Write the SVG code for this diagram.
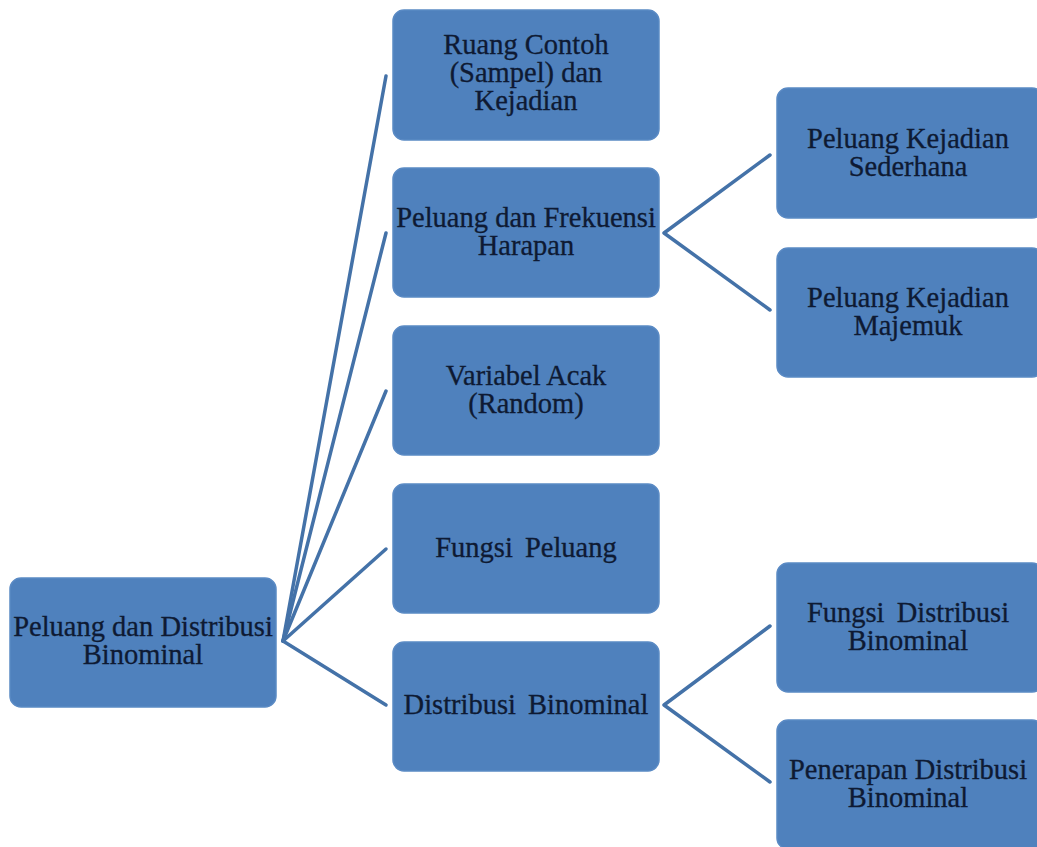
<svg xmlns="http://www.w3.org/2000/svg" width="1037" height="847" viewBox="0 0 1037 847">
<style>
.box{fill:#4f81bd;stroke:#5a8ac4;stroke-width:1.5}
.t{font-family:"Liberation Serif","Times New Roman",serif;font-size:28.5px;fill:#0e1a33;text-anchor:middle;stroke:#0e1a33;stroke-width:0.3}
.c{stroke:#4472a8;stroke-width:3.5;fill:none;stroke-linecap:round;stroke-linejoin:round}
</style>
<rect width="1037" height="847" fill="#ffffff"/>
<g id="connectors">
<path class="c" d="M283,641 L386,76"/>
<path class="c" d="M283,641 L386,233"/>
<path class="c" d="M283,641 L386,391"/>
<path class="c" d="M283,641 L386,549"/>
<path class="c" d="M283,641 L386,705"/>
<path class="c" d="M770,155 L664,233 L770,310"/>
<path class="c" d="M770,626 L664,705 L770,782"/>
</g>
<g id="root">
<rect class="box" x="10" y="578" width="266" height="129" rx="11"/>
<text class="t" x="143" y="636">Peluang dan Distribusi</text>
<text class="t" x="143" y="664">Binominal</text>
</g>
<g id="ruang-contoh">
<rect class="box" x="393" y="10" width="266" height="130" rx="11"/>
<text class="t" x="526" y="54">Ruang Contoh</text>
<text class="t" x="526" y="82">(Sampel) dan</text>
<text class="t" x="526" y="110">Kejadian</text>
</g>
<g id="peluang-frekuensi">
<rect class="box" x="393" y="168" width="266" height="129" rx="11"/>
<text class="t" x="526" y="227">Peluang dan Frekuensi</text>
<text class="t" x="526" y="255">Harapan</text>
</g>
<g id="variabel-acak">
<rect class="box" x="393" y="326" width="266" height="129" rx="11"/>
<text class="t" x="526" y="385">Variabel Acak</text>
<text class="t" x="526" y="413">(Random)</text>
</g>
<g id="fungsi-peluang">
<rect class="box" x="393" y="484" width="266" height="129" rx="11"/>
<text class="t" x="526" y="557" word-spacing="5">Fungsi Peluang</text>
</g>
<g id="distribusi-binominal">
<rect class="box" x="393" y="642" width="266" height="129" rx="11"/>
<text class="t" x="526" y="714" word-spacing="5">Distribusi Binominal</text>
</g>
<g id="kejadian-sederhana">
<rect class="box" x="777" y="88" width="266" height="130" rx="11"/>
<text class="t" x="908" y="148">Peluang Kejadian</text>
<text class="t" x="908" y="176">Sederhana</text>
</g>
<g id="kejadian-majemuk">
<rect class="box" x="777" y="248" width="266" height="129" rx="11"/>
<text class="t" x="908" y="307">Peluang Kejadian</text>
<text class="t" x="908" y="335">Majemuk</text>
</g>
<g id="fungsi-distribusi">
<rect class="box" x="777" y="563" width="266" height="129" rx="11"/>
<text class="t" x="908" y="622" word-spacing="5">Fungsi Distribusi</text>
<text class="t" x="908" y="650">Binominal</text>
</g>
<g id="penerapan-distribusi">
<rect class="box" x="777" y="720" width="266" height="129" rx="11"/>
<text class="t" x="908" y="779">Penerapan Distribusi</text>
<text class="t" x="908" y="807">Binominal</text>
</g>
</svg>
